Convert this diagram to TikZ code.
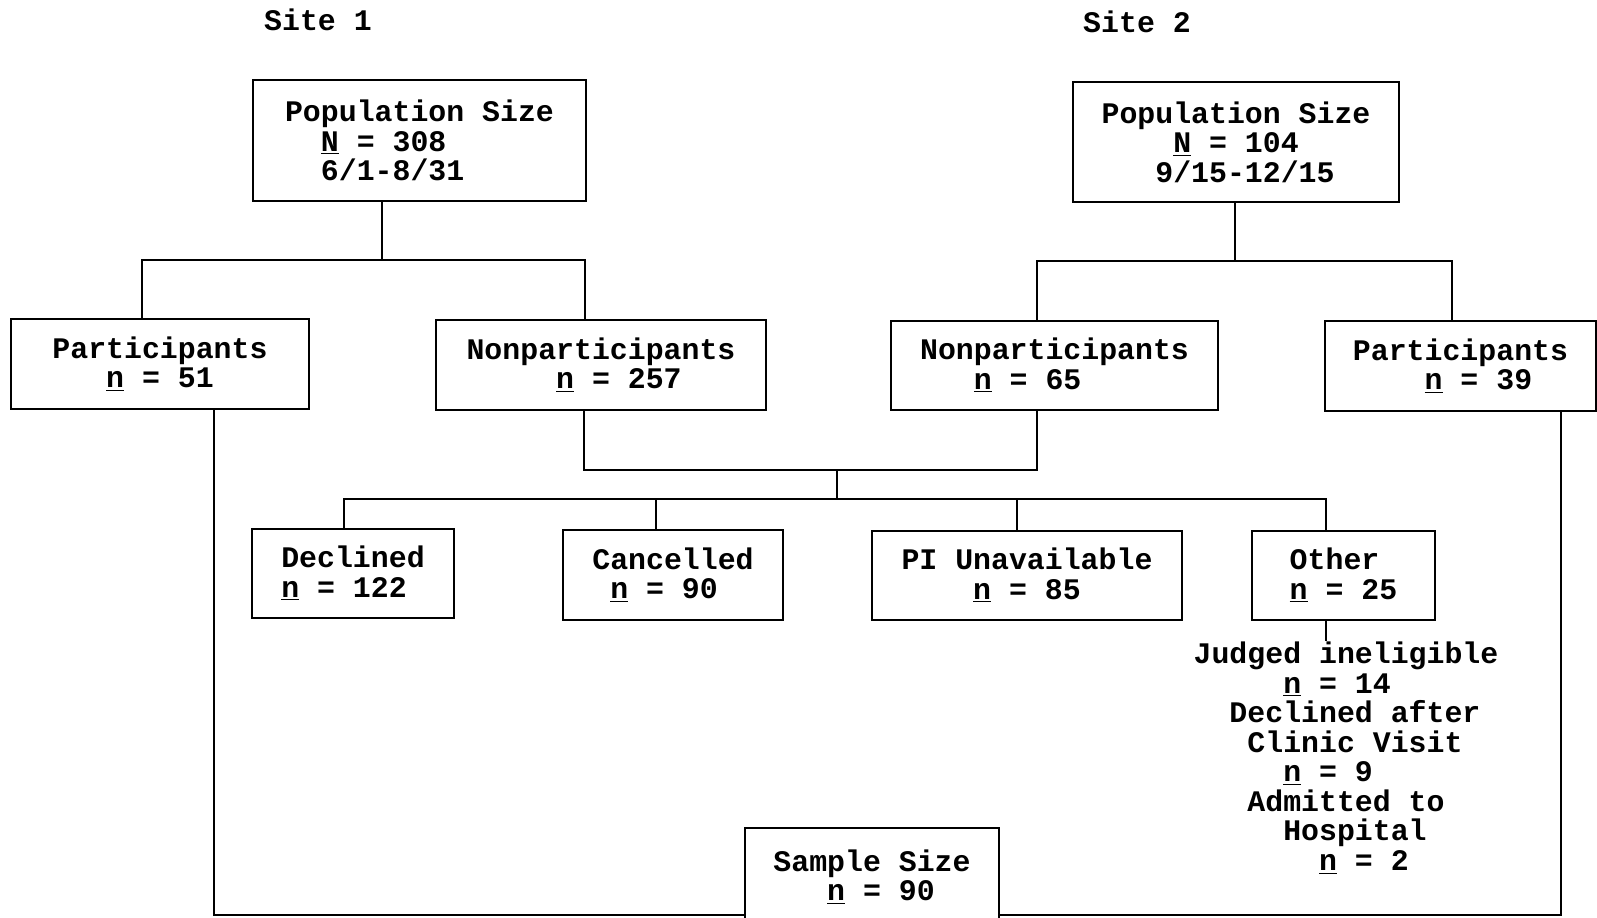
\documentclass[tikz,border=0pt]{standalone}
\usepackage{fontspec}
\setmainfont{Liberation Mono}
\usetikzlibrary{positioning}

\newcommand\gap[1]{\hspace*{\dimexpr0.6em*#1\relax}}

\begin{document}
\begin{tikzpicture}
	[x=0.02cm, y=-0.02cm, line width=1.3pt,
	font=\fontsize{17}{16.8}\selectfont\bfseries,
	every node/.style={inner sep=0pt, align=left},
	box/.style 2 args={draw, minimum width=#1*0.02cm, minimum height=#2*0.02cm}]

\useasboundingbox (0,0) rectangle (1597,918);

\node (site1) at (318,20) {Site 1};
\node (site2) at (1137,22) {Site 2};

\node [box={333}{121}] (pop1) at (419.5,140.5) {Population Size\\\gap{2}\underline{N} = 308\\\gap{2}6/1-8/31};
\node [box={326}{120}] (pop2) at (1236,142) {Population Size\\\gap{4}\underline{N} = 104\\\gap{3}9/15-12/15};

\node [box={298}{90}] (part1) at (160,364) {Participants\\\gap{3}\underline{n} = 51};
\node [box={330}{90}] (nonpart1) at (601,365) {Nonparticipants\\\gap{5}\underline{n} = 257};
\node [box={327}{89}] (nonpart2) at (1054.5,365.5) {Nonparticipants\\\gap{3}\underline{n} = 65};
\node [box={271}{90}] (part2) at (1460.5,366) {Participants\\\gap{4}\underline{n} = 39};

\node [box={202}{89}] (declined) at (353,573.5) {Declined\\\underline{n} = 122};
\node [box={220}{90}] (cancelled) at (673,575) {Cancelled\\\gap{1}\underline{n} = 90};
\node [box={310}{89}] (pi) at (1027,575.5) {PI Unavailable\\\gap{4}\underline{n} = 85};
\node [box={183}{89}] (other) at (1343.5,575.5) {Other\\\underline{n} = 25};
\node [anchor=north] (why) at (1346,641) {Judged ineligible\\\gap{5}\underline{n} = 14\\\gap{2}Declined after\\\gap{3}Clinic Visit\\\gap{5}\underline{n} = 9\\\gap{3}Admitted to\\\gap{5}Hospital\\\gap{7}\underline{n} = 2};

\node [box={254}{98}] (sample) at (872,877) {Sample Size\\\gap{3}\underline{n} = 90};

% junctions
\coordinate (fork1) at (382,260);
\coordinate (fork2) at (1235,261);
\coordinate (merge) at (837,470);
\coordinate (split) at (837,499);

\draw (pop1.south -| fork1) -- (fork1);
\draw (part1.north -| 142,0) |- (fork1) -| (nonpart1.north -| 585,0);
\draw (pop2.south -| fork2) -- (fork2);
\draw (nonpart2.north -| 1037,0) |- (fork2) -| (part2.north -| 1452,0);

\draw (nonpart1.south -| 584,0) |- (merge) -| (nonpart2.south -| 1037,0);
\draw (merge) -- (split);
\draw (declined.north -| 344,0) |- (split) -| (other.north -| 1326,0);
\draw (cancelled.north -| 656,0) -- (split -| 656,0);
\draw (pi.north -| 1017,0) -- (split -| 1017,0);
\draw (other.south -| 1326,0) -- (why.north -| 1326,0);

\draw (part1.south -| 214,0) |- (sample.west |- 0,915);
\draw (part2.south -| 1561,0) |- (sample.east |- 0,915);

\end{tikzpicture}
\end{document}
